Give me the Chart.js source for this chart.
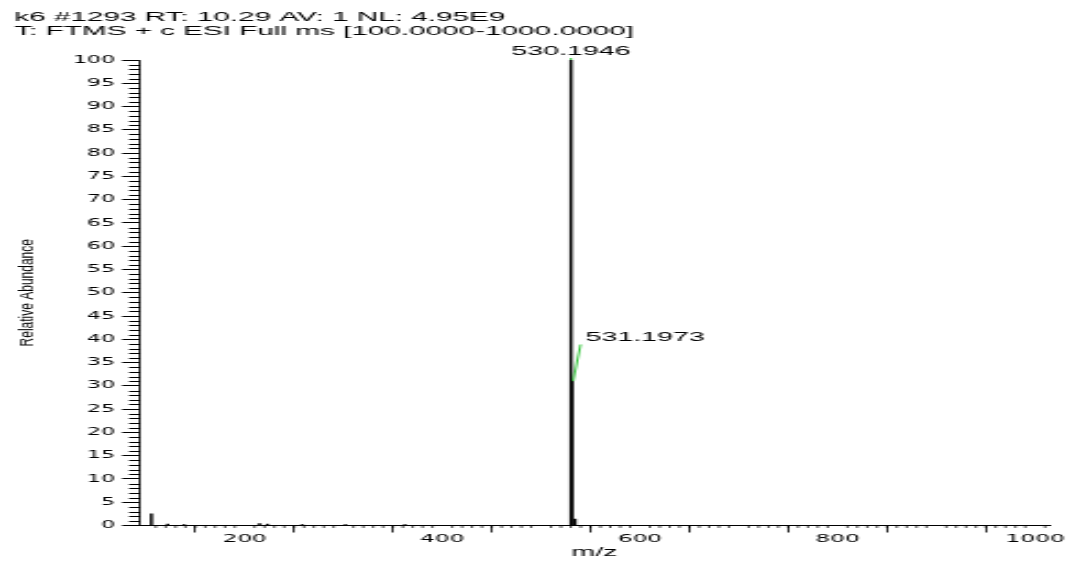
<!DOCTYPE html>
<html lang="en">
<head>
  <meta charset="UTF-8">
  <title>k6 #1293 mass spectrum</title>
  <script src="https://cdn.jsdelivr.net/npm/chart.js"></script>
  <style>
    html, body { margin: 0; padding: 0; background: #fff; overflow: hidden; }
    #wrap { width: 1071px; height: 562px; }
    /* the original export is stretched sideways, so draw narrow and widen */
    canvas { display: block; transform: scaleX(2.19918); transform-origin: 0 0; }
  </style>
</head>
<body>
  <div id="wrap"><canvas id="spectrum" width="487" height="562"></canvas></div>
  <script>
    // Header of the scan
    const headerLines = [
      'k6 #1293 RT: 10.29 AV: 1 NL: 4.95E9',
      'T: FTMS + c ESI Full ms [100.0000-1000.0000]'
    ];
    // Centroid peaks: m/z and relative abundance (%)
    const peakMz        = [105.5, 122.0, 138.5, 215.0, 223.0, 258.2, 301.9, 362.1, 530.1946, 531.1973, 534.2];
    const peakAbundance = [2.5,   0.3,   0.2,   0.4,   0.3,   0.2,   0.2,   0.2,   100,      31.0,     1.4];
    const labeledPeaks  = ['530.1946', '531.1973'];
    // Axes
    const xMajorTicks = [100, 200, 300, 400, 500, 600, 700, 800, 900, 1000];
    const xTickLabels = ['200', '400', '600', '800', '1000'];
    const yMajorTicks = [0, 5, 10, 15, 20, 25, 30, 35, 40, 45, 50, 55, 60, 65, 70, 75, 80, 85, 90, 95, 100];
    const xRange = [94, 1014];

    const FONT = 'Liberation Sans, Arial, sans-serif';
    const TICKFONT = 'DejaVu Sans, sans-serif';

    // minor ticks, header, y title and peak labels
    const decor = {
      id: 'decor',
      afterDraw(chart) {
        const ctx = chart.ctx;
        const xs = chart.scales.x, ys = chart.scales.y;
        const area = chart.chartArea;
        ctx.save();
        ctx.strokeStyle = '#000';
        ctx.beginPath();
        ctx.lineWidth = 1;
        for (let v = 1; v < 100; v++) {
          if (v % 5 === 0) continue;
          const y = Math.round(ys.getPixelForValue(v)) + 0.5;
          ctx.moveTo(area.left - 5, y);
          ctx.lineTo(area.left, y);
        }
        ctx.stroke();
        ctx.beginPath();
        ctx.lineWidth = 0.7;
        for (let v = 100; v <= 1010; v += 10) {
          if (v % 100 === 0) continue;
          const x = xs.getPixelForValue(v);
          ctx.moveTo(x, area.bottom);
          ctx.lineTo(x, area.bottom + 2.5);
        }
        ctx.stroke();

        ctx.fillStyle = '#000';
        ctx.font = '13.5px ' + FONT;
        ctx.textBaseline = 'middle';
        ctx.textAlign = 'left';
        ctx.fillText(headerLines[0], 6.4, 17);
        ctx.fillText(headerLines[1], 6.4, 31);

        // y title, narrow like the original
        ctx.save();
        ctx.translate(12.7, (area.top + area.bottom) / 2);
        ctx.scale(0.68, 1);
        ctx.rotate(-Math.PI / 2);
        ctx.textAlign = 'center';
        ctx.font = '12px ' + FONT;
        ctx.fillText('Relative Abundance', 0, 0);
        ctx.restore();

        const bars = chart.getDatasetMeta(0).data;
        ctx.font = '13px ' + FONT;
        labeledPeaks.forEach((lbl, k) => {
          const b = bars[peakMz.indexOf(parseFloat(lbl))];
          ctx.strokeStyle = '#22c02a';
          ctx.lineWidth = 0.9;
          ctx.beginPath();
          if (k === 0) {
            ctx.moveTo(b.x, b.y);
            ctx.lineTo(b.x, b.y - 2);
            ctx.stroke();
            ctx.textAlign = 'center';
            ctx.fillText(lbl, b.x, b.y - 8.5);
          } else {
            ctx.moveTo(b.x + 0.5, b.y);
            ctx.lineTo(b.x + 3.9, b.y - 36.7);
            ctx.stroke();
            ctx.textAlign = 'left';
            ctx.fillText(lbl, b.x + 6.1, b.y - 44);
          }
        });
        ctx.restore();
      }
    };

    new Chart(document.getElementById('spectrum'), {
      type: 'bar',
      data: {
        datasets: [{
          data: peakMz.map((m, i) => ({ x: m, y: peakAbundance[i] })),
          backgroundColor: '#000',
          borderWidth: 0,
          barThickness: 0.8
        }]
      },
      options: {
        responsive: false,
        animation: false,
        layout: { padding: { top: 60, right: 10, left: 0, bottom: 0 } },
        plugins: { legend: { display: false }, tooltip: { enabled: false } },
        scales: {
          x: {
            type: 'linear',
            offset: false,
            min: xRange[0],
            max: xRange[1],
            afterBuildTicks: s => { s.ticks = xMajorTicks.map(v => ({ value: v })); },
            afterFit: s => { s.height = 36.5; },
            grid: { drawOnChartArea: false, tickLength: 7, tickWidth: 0.8, color: '#000' },
            border: { display: true, color: '#000', width: 1 },
            ticks: {
              autoSkip: false, maxRotation: 0, padding: 0, color: '#000',
              font: { family: TICKFONT, size: 10.5 },
              callback: v => xTickLabels.includes(String(v)) ? String(v) : ''
            },
            title: {
              display: true, text: 'm/z', color: '#000',
              font: { family: FONT, size: 13 },
              padding: { top: 0, bottom: 1.5 }
            }
          },
          y: {
            min: 0,
            max: 100,
            afterBuildTicks: s => { s.ticks = yMajorTicks.map(v => ({ value: v })); },
            afterFit: s => { s.width = 63.66; },
            grid: { drawOnChartArea: false, tickLength: 8.2, color: '#000' },
            border: { display: true, color: '#000', width: 0.9 },
            ticks: {
              autoSkip: false, padding: 3.2, color: '#000',
              font: { family: TICKFONT, size: 10 }
            }
          }
        }
      },
      plugins: [decor]
    });
  </script>
</body>
</html>
